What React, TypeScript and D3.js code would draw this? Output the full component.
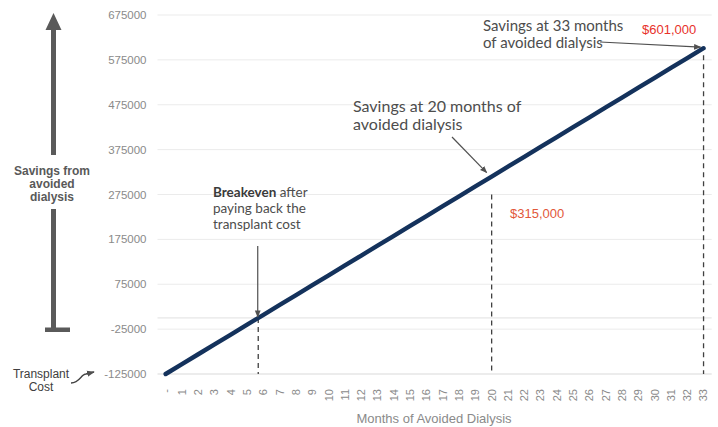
import * as d3 from 'd3';
import { useEffect, useRef } from 'react';

const months = ['-', '1', '2', '3', '4', '5', '6', '7', '8', '9', '10', '11', '12', '13', '14', '15', '16',
  '17', '18', '19', '20', '21', '22', '23', '24', '25', '26', '27', '28', '29', '30', '31', '32', '33'];

const savings = [-125000, -103000, -81000, -59000, -37000, -15000, 7000, 29000, 51000, 73000, 95000,
  117000, 139000, 161000, 183000, 205000, 227000, 249000, 271000, 293000, 315000, 337000, 359000,
  381000, 403000, 425000, 447000, 469000, 491000, 513000, 535000, 557000, 579000, 601000];

const yTicks = [-125000, -25000, 75000, 175000, 275000, 375000, 475000, 575000, 675000];

const breakevenMonth = 5.68;

const App = () => {
  const chartRef = useRef(null);

  useEffect(() => {
    const svg = d3.select(chartRef.current);
    svg.selectAll('*').remove();

    const margin = { top: 15, bottom: 53, left: 157.5, right: 6.3 };
    const width = 718;
    const height = 427;

    const x = d3.scaleBand().domain(months).range([margin.left, width - margin.right]).padding(0);
    const cx = (m) => x(m) + x.bandwidth() / 2;
    const xFrac = (v) => cx(months[0]) + v * x.step();
    const y = d3.scaleLinear().domain([-125000, 675000]).range([height - margin.bottom, margin.top]);

    const defs = svg.append('defs');
    defs.append('marker')
      .attr('id', 'ah')
      .attr('viewBox', '0 0 10 10')
      .attr('refX', 9).attr('refY', 5)
      .attr('markerWidth', 6).attr('markerHeight', 6)
      .attr('orient', 'auto')
      .append('path').attr('d', 'M0,1 L10,5 L0,9 Z').attr('fill', '#505050');

    // grid
    svg.append('g')
      .selectAll('line')
      .data(yTicks)
      .enter()
      .append('line')
      .attr('x1', margin.left).attr('x2', width - margin.right)
      .attr('y1', (d) => y(d)).attr('y2', (d) => y(d))
      .attr('stroke', (d) => (d === -125000 ? '#d9d9d9' : '#ebebeb'))
      .attr('stroke-width', 1);
    svg.append('line')
      .attr('x1', margin.left).attr('x2', width - margin.right)
      .attr('y1', y(0)).attr('y2', y(0))
      .attr('stroke', '#e0e0e0');

    // y labels
    svg.append('g')
      .selectAll('text')
      .data(yTicks)
      .enter()
      .append('text')
      .attr('x', 146.5)
      .attr('y', (d) => y(d))
      .attr('dy', '0.35em')
      .attr('text-anchor', 'end')
      .style('font-family', '"Liberation Sans", Arial, sans-serif')
      .style('font-size', '11.5px')
      .style('fill', '#8a8a8a')
      .text((d) => d);

    // x labels
    svg.append('g')
      .selectAll('text')
      .data(months)
      .enter()
      .append('text')
      .attr('transform', (d) => `translate(${cx(d)}, 389) rotate(-90)`)
      .attr('dy', '0.35em')
      .attr('text-anchor', 'end')
      .style('font-family', '"Liberation Sans", Arial, sans-serif')
      .style('font-size', '11px')
      .style('fill', '#8a8a8a')
      .text((d) => d);

    svg.append('text')
      .attr('x', 434).attr('y', 423)
      .attr('text-anchor', 'middle')
      .style('font-family', '"Liberation Sans", Arial, sans-serif')
      .style('font-size', '13px')
      .style('fill', '#8a8a8a')
      .text('Months of Avoided Dialysis');

    // dashed drop lines
    const drops = [
      { x: xFrac(breakevenMonth), y1: y(0) },
      { x: cx('20'), y1: y(315000) + 18 },
      { x: cx('33'), y1: y(601000) + 7 },
    ];
    svg.append('g')
      .selectAll('line')
      .data(drops)
      .enter()
      .append('line')
      .attr('x1', (d) => d.x).attr('x2', (d) => d.x)
      .attr('y1', (d) => d.y1).attr('y2', y(-125000))
      .attr('stroke', '#404040')
      .attr('stroke-width', 1.3)
      .attr('stroke-dasharray', '5,4');

    // savings line
    const line = d3.line()
      .x((d, i) => cx(months[i]))
      .y((d) => y(d));
    svg.append('path')
      .datum(savings)
      .attr('d', line)
      .attr('fill', 'none')
      .attr('stroke', '#14325c')
      .attr('stroke-width', 4.4)
      .attr('stroke-linecap', 'round');

    const lato = 'Lato, "Open Sans", sans-serif';

    // breakeven annotation
    const be = svg.append('text')
      .attr('x', 213)
      .style('font-family', lato)
      .style('font-size', '13.5px')
      .style('fill', '#4d4d4d');
    const l1 = be.append('tspan').attr('x', 213).attr('y', 197);
    l1.append('tspan').style('font-weight', 'bold').style('fill', '#3a3a3a').text('Breakeven');
    l1.append('tspan').text(' after');
    be.append('tspan').attr('x', 213).attr('y', 213).text('paying back the');
    be.append('tspan').attr('x', 213).attr('y', 229).text('transplant cost');
    svg.append('line')
      .attr('x1', xFrac(breakevenMonth) - 0.5).attr('x2', xFrac(breakevenMonth) - 0.5)
      .attr('y1', 246).attr('y2', y(0) - 1)
      .attr('stroke', '#505050').attr('stroke-width', 1.2)
      .attr('marker-end', 'url(#ah)');

    // 20 months annotation
    const a20 = svg.append('text')
      .style('font-family', lato)
      .style('font-size', '16px')
      .style('fill', '#4d4d4d');
    a20.append('tspan').attr('x', 353).attr('y', 112).text('Savings at 20 months of');
    a20.append('tspan').attr('x', 353).attr('y', 130).text('avoided dialysis');
    svg.append('line')
      .attr('x1', 452).attr('y1', 137)
      .attr('x2', cx('20') - 5).attr('y2', y(315000) - 4)
      .attr('stroke', '#505050').attr('stroke-width', 1.2)
      .attr('marker-end', 'url(#ah)');
    svg.append('text')
      .attr('x', 510).attr('y', 218)
      .style('font-family', '"Liberation Sans", Arial, sans-serif')
      .style('font-size', '13px')
      .style('fill', '#e2583a')
      .text('$315,000');

    // 33 months annotation
    const a33 = svg.append('text')
      .style('font-family', lato)
      .style('font-size', '15px')
      .style('fill', '#4d4d4d');
    a33.append('tspan').attr('x', 483).attr('y', 31).text('Savings at 33 months');
    a33.append('tspan').attr('x', 483).attr('y', 48).text('of avoided dialysis');
    svg.append('line')
      .attr('x1', 600).attr('y1', 42)
      .attr('x2', cx('33') - 3).attr('y2', y(601000) - 1)
      .attr('stroke', '#505050').attr('stroke-width', 1.2)
      .attr('marker-end', 'url(#ah)');
    svg.append('text')
      .attr('x', 642).attr('y', 34)
      .style('font-family', '"Liberation Sans", Arial, sans-serif')
      .style('font-size', '13px')
      .style('fill', '#e8322a')
      .text('$601,000');

    // left savings arrow
    const ax = 53.5;
    const grey = '#5a5a5a';
    svg.append('rect').attr('x', ax - 2.5).attr('y', 28).attr('width', 5).attr('height', 127).attr('fill', grey);
    svg.append('path')
      .attr('d', `M${ax},13 L${ax + 8},30 L${ax - 8},30 Z`)
      .attr('fill', grey);
    svg.append('rect').attr('x', ax - 2.5).attr('y', 209).attr('width', 5).attr('height', 121).attr('fill', grey);
    svg.append('rect').attr('x', 45).attr('y', 327.5).attr('width', 25).attr('height', 4.5).attr('fill', grey);
    const st = svg.append('text')
      .attr('text-anchor', 'middle')
      .style('font-family', '"Liberation Sans", Arial, sans-serif')
      .style('font-size', '12px')
      .style('font-weight', 'bold')
      .style('fill', '#595959');
    st.append('tspan').attr('x', 52).attr('y', 175).text('Savings from');
    st.append('tspan').attr('x', 52).attr('y', 188).text('avoided');
    st.append('tspan').attr('x', 52).attr('y', 201).text('dialysis');

    // transplant cost
    const tc = svg.append('text')
      .attr('text-anchor', 'middle')
      .style('font-family', '"Liberation Sans", Arial, sans-serif')
      .style('font-size', '12px')
      .style('fill', '#404040');
    tc.append('tspan').attr('x', 41).attr('y', 377.5).text('Transplant');
    tc.append('tspan').attr('x', 41).attr('y', 390.5).text('Cost');
    svg.append('path')
      .attr('d', 'M71,383 C80,383 81,374 86,374 L94,372')
      .attr('fill', 'none')
      .attr('stroke', '#404040')
      .attr('stroke-width', 1.3)
      .attr('marker-end', 'url(#ah)');
  }, []);

  return (
    <svg
      ref={chartRef}
      width={718}
      height={427}
      style={{ position: 'absolute', left: 0, top: 0, background: '#fff' }}
    ></svg>
  );
};

export default App;
